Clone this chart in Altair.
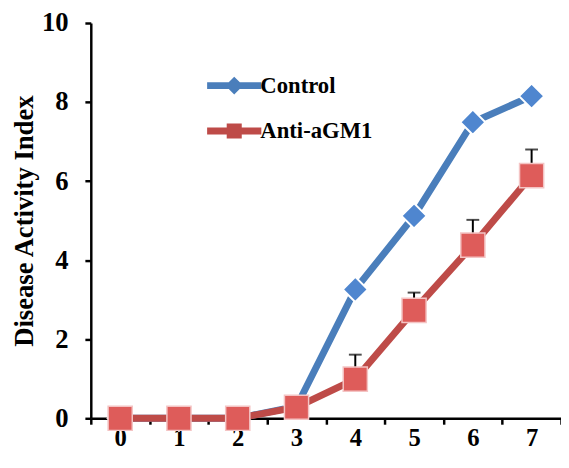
import altair as alt
import pandas as pd

days = [0, 1, 2, 3, 4, 5, 6, 7]
control = [0, 0, 0, 0.30, 3.26, 5.12, 7.49, 8.15]
anti = [0, 0, 0, 0.28, 0.99, 2.73, 4.38, 6.14]
anti_upper = [None, None, None, None, 1.61, 3.18, 5.02, 6.80]
series_names = ["Control", "Anti-aGM1"]
line_colors = ["#4A7EBB", "#BE4B48"]
marker_fills = ["#4F86CF", "#DE5C5A"]
legend_fills = ["#5B92D6", "#E06A68"]
legend_shapes = [
    "M-2,0H2M-0.3,0L0,-0.3L0.3,0L0,0.3Z",
    "M-2,0H2M-0.3,-0.3H0.3V0.3H-0.3Z",
]
y_ticks = [0, 2, 4, 6, 8, 10]

rows = []
for d, c, a, u in zip(days, control, anti, anti_upper):
    rows.append({"day": d, "series": "Control", "value": c, "upper": None})
    rows.append({"day": d, "series": "Anti-aGM1", "value": a, "upper": u})
df = pd.DataFrame(rows)

FONT = "Liberation Serif"

x_enc = alt.X(
    "day:O",
    scale=alt.Scale(type="band", paddingInner=0, paddingOuter=0),
    axis=alt.Axis(
        title=None, labelAngle=0, tickBand="extent", labelFont=FONT, labelFontSize=25,
        labelFontWeight="bold", labelColor="black", labelPadding=2, tickSize=6,
        tickWidth=2.5, tickColor="black", domainColor="black", domainWidth=2.5,
        grid=False,
    ),
)
y_enc = alt.Y(
    "value:Q",
    scale=alt.Scale(domain=[0, 10], nice=False),
    axis=alt.Axis(
        values=y_ticks, title="Disease Activity Index", titleFont=FONT, titleFontSize=27,
        titleFontWeight="bold", titleColor="black", titlePadding=3,
        labelFont=FONT, labelFontSize=27, labelFontWeight="bold", labelColor="black",
        labelPadding=17, tickSize=6, tickWidth=2.5, tickColor="black",
        domainColor="black", domainWidth=2.5, grid=False,
    ),
)

legend = alt.Legend(
    title=None, orient="none", legendX=128, legendY=46, padding=0,
    symbolSize=756, symbolStrokeWidth=7, symbolOpacity=1, labelFont=FONT, labelFontSize=23,
    labelFontWeight="bold", labelColor="black", labelOffset=9, rowPadding=9,
)

base = alt.Chart(df)
is_ctrl = "datum.series === 'Control'"
is_anti = "datum.series === 'Anti-aGM1'"

ctrl_line = base.transform_filter(is_ctrl).mark_line(strokeWidth=7, color=line_colors[0]).encode(
    x=x_enc, y=y_enc
)
ctrl_pts = base.transform_filter(is_ctrl).mark_point(
    shape="diamond", filled=True, size=650, fill=marker_fills[0], stroke="white",
    strokeWidth=2, opacity=1,
).encode(x=x_enc, y=y_enc)
anti_line = base.transform_filter(is_anti).mark_line(strokeWidth=7, color=line_colors[1]).encode(
    x=x_enc, y=y_enc
)
err_rule = base.transform_filter("datum.upper != null").mark_rule(color="black", strokeWidth=2).encode(
    x=x_enc, y=y_enc, y2="upper:Q"
)
err_cap = base.transform_filter("datum.upper != null").mark_tick(
    color="black", thickness=2, size=13, orient="horizontal"
).encode(x=x_enc, y=alt.Y("upper:Q"))
anti_pts = base.transform_filter(is_anti).mark_point(
    shape="square", filled=True, size=600, fill=marker_fills[1], stroke="#F4C4C4",
    strokeWidth=1.5, opacity=1,
).encode(x=x_enc, y=y_enc)

legend_src = base.transform_filter("datum.day === 0").mark_point(size=0, strokeWidth=7).encode(
    x=x_enc, y=y_enc,
    stroke=alt.Stroke("series:N", scale=alt.Scale(domain=series_names, range=line_colors), legend=legend),
    fill=alt.Fill("series:N", scale=alt.Scale(domain=series_names, range=legend_fills), legend=legend),
    shape=alt.Shape("series:N", scale=alt.Scale(domain=series_names, range=legend_shapes), legend=legend),
)

chart = alt.layer(legend_src, ctrl_line, ctrl_pts, anti_line, err_rule, err_cap, anti_pts).properties(
    width=477, height=401,
    autosize=alt.AutoSizeParams(type="none"),
    padding={"left": 84, "top": 12, "right": 0, "bottom": 34},
).configure_view(stroke=None)

chart.save("out.html", embed_options={"renderer": "svg", "actions": False})
